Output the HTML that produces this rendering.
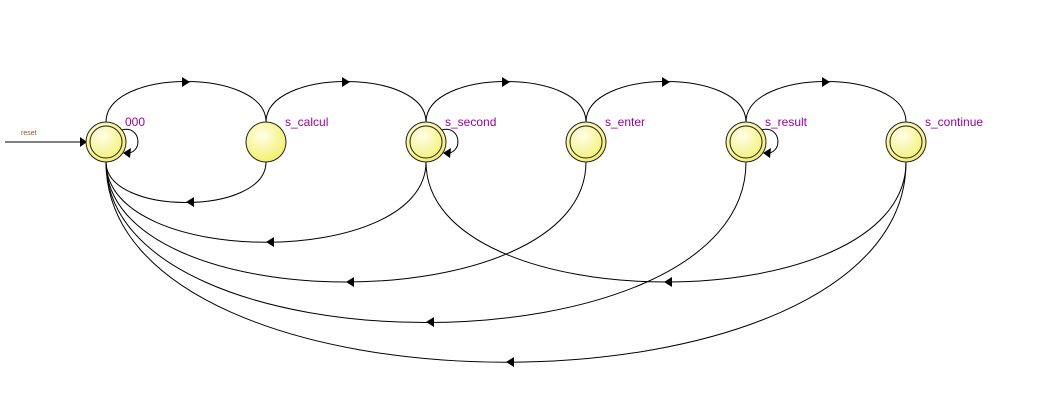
<!DOCTYPE html>
<html><head><meta charset="utf-8"><style>
html,body{margin:0;padding:0;background:#fff;}
svg{display:block;}
text{font-family:"Liberation Sans",sans-serif;}
</style></head><body>
<svg width="1042" height="405" viewBox="0 0 1042 405" xmlns="http://www.w3.org/2000/svg">
<defs>
<radialGradient id="g" cx="40%" cy="35%" r="65%">
<stop offset="0" stop-color="#ffffe8"/><stop offset="1" stop-color="#f4f070"/>
</radialGradient>
</defs>
<g fill="none" stroke="#000" stroke-width="1">
<!-- top arcs -->
<path d="M106,122 C106,68 266,68 266,122"/>
<path d="M266,122 C266,68 426,68 426,122"/>
<path d="M426,122 C426,68 586,68 586,122"/>
<path d="M586,122 C586,68 746,68 746,122"/>
<path d="M746,122 C746,68 906,68 906,122"/>
<!-- bottom arcs -->
<path d="M266,162 C266,216 106,216 106,162"/>
<path d="M426,162 C426,269 106,269 106,162"/>
<path d="M586,162 C586,322 106,322 106,162"/>
<path d="M746,162 C746,376 106,376 106,162"/>
<path d="M906,162 C906,429 106,429 106,162"/>
<path d="M906,162 C906,322 426,322 426,162"/>
<!-- self loops -->
<path d="M121,130 C142,124 144,156 124,153"/>
<path d="M441,130 C462,124 464,156 444,153"/>
<path d="M761,130 C782,124 784,156 764,153"/>
<!-- reset -->
<path d="M5,142 L80,142"/>
</g>
<g fill="#000">
<polygon points="80,137 87,142 80,147"/>
<!-- top arrows (right) -->
<polygon points="182,77 190,82 182,87"/>
<polygon points="342,77 350,82 342,87"/>
<polygon points="502,77 510,82 502,87"/>
<polygon points="662,77 670,82 662,87"/>
<polygon points="822,77 830,82 822,87"/>
<!-- bottom arrows (left) -->
<polygon points="194,197 186,202 194,207"/>
<polygon points="274,237 266,242 274,247"/>
<polygon points="354,277 346,282 354,287"/>
<polygon points="434,317 426,322 434,327"/>
<polygon points="514,357 506,362 514,367"/>
<polygon points="672,277 664,282 672,287"/>
<!-- loop arrows -->
<polygon points="131,148 123,153 130,158"/>
<polygon points="451,148 443,153 450,158"/>
<polygon points="771,148 763,153 770,158"/>
</g>
<g stroke="#222" stroke-width="1" fill="url(#g)">
<circle cx="106" cy="142" r="20"/>
<circle cx="266" cy="142" r="20"/>
<circle cx="426" cy="142" r="20"/>
<circle cx="586" cy="142" r="20"/>
<circle cx="746" cy="142" r="20"/>
<circle cx="906" cy="142" r="20"/>
</g>
<g stroke="#222" stroke-width="1" fill="none">
<circle cx="106" cy="142" r="16"/>
<circle cx="426" cy="142" r="16"/>
<circle cx="586" cy="142" r="16"/>
<circle cx="746" cy="142" r="16"/>
<circle cx="906" cy="142" r="16"/>
</g>
<g fill="#990099" font-size="12">
<text x="125" y="126">000</text>
<text x="285" y="126">s_calcul</text>
<text x="445" y="126">s_second</text>
<text x="605" y="126">s_enter</text>
<text x="765" y="126">s_result</text>
<text x="925" y="126">s_continue</text>
</g>
<text x="21" y="135" font-size="7" fill="#8a5a2a">reset</text>
</svg>
</body></html>
